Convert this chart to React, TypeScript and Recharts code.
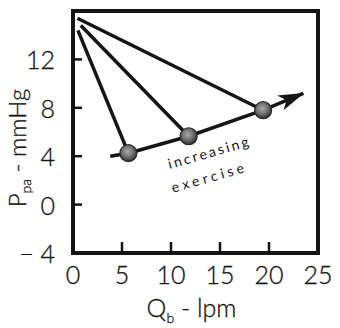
import React from "react";
import {
  ComposedChart,
  Line,
  Scatter,
  XAxis,
  YAxis,
  ReferenceArea,
  ReferenceDot,
} from "recharts";

// Flow (Qb, lpm) and pulmonary arterial pressure (Ppa, mmHg)
const pointQ = [5.65, 11.8, 19.4];
const pointP = [4.25, 5.65, 7.8];
// origins of the three lines near the top-left
const apexQ = [0.5, 0.8, 0.45];
const apexP = [14.4, 14.8, 15.4];
// "increasing exercise" trend line
const trendQ = [3.8, 5.65, 11.8, 19.4, 23.5];
const trendP = [4.0, 4.25, 5.65, 7.8, 9.2];

const xTicks = [0, 5, 10, 15, 20, 25];
const yTicks = [-4, 0, 4, 8, 12];
const xDomain = [0, 25];
const yDomain = [-4, 16];

const annotation1 = "increasing";
const annotation2 = "exercise";

const FONT = "Lato, 'Open Sans', sans-serif";
const INK = "#151515";

const balls = pointQ.map((q, i) => ({ x: q, y: pointP[i] }));
const spokes = pointQ.map((q, i) => [
  { x: apexQ[i], y: apexP[i] },
  { x: q, y: pointP[i] },
]);
const trend = trendQ.map((q, i) => ({ x: q, y: trendP[i] }));

const Ball = (props: any) => {
  const { cx, cy } = props;
  if (cx == null || cy == null) return null;
  return (
    <circle cx={cx} cy={cy} r={8.5} fill="url(#ballGrad)" stroke="#2a2a2a" strokeWidth={1.2} />
  );
};

const makeNote = (txt: string, spacing: number) => (props: any) => {
  const { cx, cy } = props;
  if (cx == null || cy == null) return null;
  return (
    <text
      x={cx}
      y={cy}
      textAnchor="middle"
      dominantBaseline="central"
      transform={`rotate(-16, ${cx}, ${cy})`}
      fontFamily={FONT}
      fontSize={14}
      letterSpacing={spacing}
      fill={INK}
    >
      {txt}
    </text>
  );
};

const fmtY = (v: number) => (v < 0 ? `\u2212 ${-v}` : String(v));

const YTick = (props: any) => {
  const { x, y, payload } = props;
  const v = payload.value;
  return (
    <g>
      {v !== yDomain[0] && (
        <line x1={x} x2={x + 9} y1={y} y2={y} stroke={INK} strokeWidth={2.5} />
      )}
      <text
        x={x - 18}
        y={y}
        textAnchor="end"
        dominantBaseline="central"
        fontFamily={FONT}
        fontWeight={300}
        fontSize={25}
        fill={INK}
        stroke={INK}
        strokeWidth={0.3}
      >
        {fmtY(v)}
      </text>
    </g>
  );
};

const XTick = (props: any) => {
  const { x, y, payload } = props;
  const v = payload.value;
  return (
    <g>
      {v !== xDomain[0] && v !== xDomain[1] && (
        <line x1={x} x2={x} y1={y} y2={y - 11} stroke={INK} strokeWidth={2.5} />
      )}
      <text
        x={x}
        y={y + 31}
        textAnchor="middle"
        fontFamily={FONT}
        fontWeight={300}
        fontSize={25}
        fill={INK}
        stroke={INK}
        strokeWidth={0.3}
      >
        {v}
      </text>
    </g>
  );
};

const YLabel = (props: any) => {
  const vb = props.viewBox || {};
  const cx = vb.x + vb.width - 47;
  const cy = vb.y + vb.height / 2 + 16;
  return (
    <text
      x={cx}
      y={cy}
      transform={`rotate(-90, ${cx}, ${cy})`}
      textAnchor="middle"
      fontFamily={FONT}
      fontWeight={300}
      fontSize={24}
      fill={INK}
      stroke={INK}
      strokeWidth={0.3}
    >
      <tspan>P</tspan>
      <tspan fontSize={14} dy={5}>pa</tspan>
      <tspan dy={-5}> - mmHg</tspan>
    </text>
  );
};

const XLabel = (props: any) => {
  const vb = props.viewBox || {};
  const cx = vb.x + vb.width / 2 - 4;
  const cy = vb.y + 64;
  return (
    <text
      x={cx}
      y={cy}
      textAnchor="middle"
      fontFamily={FONT}
      fontWeight={300}
      fontSize={25}
      fill={INK}
      stroke={INK}
      strokeWidth={0.3}
    >
      <tspan>Q</tspan>
      <tspan fontSize={14} dy={6}>b</tspan>
      <tspan dy={-6}> - lpm</tspan>
    </text>
  );
};

export default function App() {
  return (
    <div style={{ position: "absolute", left: 0, top: 0, background: "#fff" }}>
      <svg width={0} height={0} style={{ position: "absolute" }}>
        <defs>
          <radialGradient id="ballGrad" cx="45%" cy="40%" r="60%">
            <stop offset="0%" stopColor="#a8a8a8" />
            <stop offset="55%" stopColor="#707070" />
            <stop offset="100%" stopColor="#2e2e2e" />
          </radialGradient>
          <marker
            id="arrowHead"
            viewBox="0 0 26 16"
            refX={25}
            refY={8}
            markerWidth={26}
            markerHeight={16}
            markerUnits="userSpaceOnUse"
            orient="auto"
          >
            <path d="M0,0 L26,8 L0,16 L7,8 Z" fill={INK} />
          </marker>
        </defs>
      </svg>
      <ComposedChart
        width={340}
        height={328}
        margin={{ top: 11, right: 22, bottom: 5, left: 3 }}
      >
        <XAxis
          type="number"
          dataKey="x"
          domain={xDomain}
          ticks={xTicks}
          allowDataOverflow
          axisLine={false}
          height={70}
          tickSize={0}
          tickMargin={0}
          tickLine={false}
          interval={0}
          tick={<XTick />}
          label={<XLabel />}
        />
        <YAxis
          type="number"
          dataKey="y"
          domain={yDomain}
          ticks={yTicks}
          allowDataOverflow
          axisLine={false}
          width={70}
          tickSize={0}
          tickMargin={0}
          tickLine={false}
          interval={0}
          tick={<YTick />}
          label={<YLabel />}
        />
        <ReferenceArea
          x1={xDomain[0]}
          x2={xDomain[1]}
          y1={yDomain[0]}
          y2={yDomain[1]}
          fill="none"
          fillOpacity={0}
          stroke={INK}
          strokeWidth={4}
        />
        {spokes.map((d, i) => (
          <Line
            key={i}
            data={d}
            dataKey="y"
            type="linear"
            stroke={INK}
            strokeWidth={3.5}
            dot={false}
            activeDot={false}
            isAnimationActive={false}
          />
        ))}
        <Line
          data={trend}
          dataKey="y"
          type="linear"
          stroke={INK}
          strokeWidth={3.5}
          dot={false}
          activeDot={false}
          markerEnd="url(#arrowHead)"
          isAnimationActive={false}
        />
        <Scatter data={balls} dataKey="y" shape={<Ball />} isAnimationActive={false} />
        <ReferenceDot x={13.9} y={4.35} r={0} shape={makeNote(annotation1, 2.4)} />
        <ReferenceDot x={13.9} y={2.3} r={0} shape={makeNote(annotation2, 3.6)} />
      </ComposedChart>
    </div>
  );
}
